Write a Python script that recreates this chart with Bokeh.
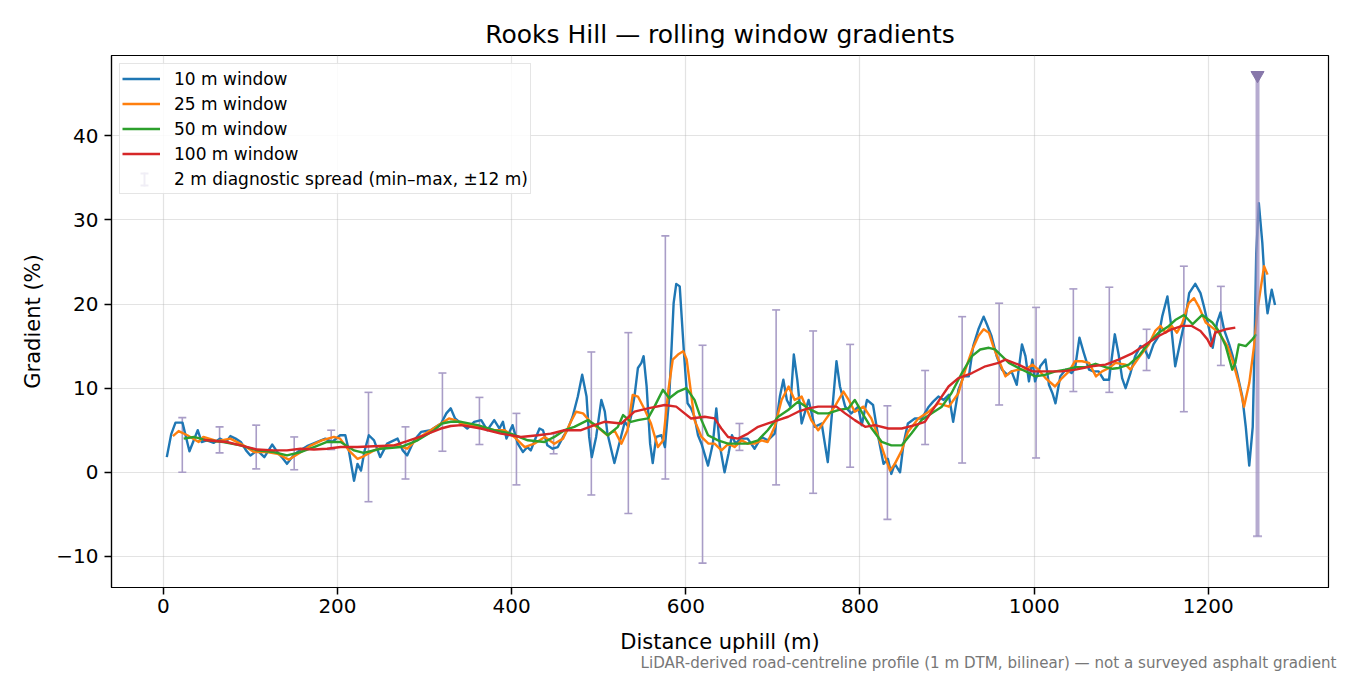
import numpy as np
from bokeh.plotting import figure
from bokeh.models import (Range1d, Legend, LegendItem, Title, FixedTicker,
                          CustomJSTickFormatter, BoxAnnotation, Node)
from bokeh.embed import file_html
from bokeh.resources import INLINE

# 10 m window
dist_10 = [4, 9, 14, 22, 30, 35, 39.5, 44, 50, 58, 65, 72, 77, 83, 89, 95, 100, 108, 116, 125,
           131, 136, 142, 148, 154, 165, 172, 181, 186, 194, 203, 209, 213, 219, 223, 227, 231, 236, 242, 249,
           257, 263, 269, 275, 280, 288, 296, 307, 313, 319, 325, 330, 335, 342, 349, 357, 365, 372, 380, 386,
           390, 394, 401, 407, 413, 418, 422, 428, 432, 436, 441, 447, 453, 459, 464, 470, 476, 481, 486, 489,
           492, 497, 503, 507, 510, 518, 526, 530, 534, 537, 541, 545, 549, 551.5, 555, 559, 562, 566, 572, 576,
           581, 586, 589, 593, 598, 602, 606, 610, 614, 618, 625.5, 631, 635, 639, 644.5, 649, 653, 657, 663, 671,
           679, 687, 694, 702, 708, 712, 716, 720, 724, 728, 733, 741, 748, 756, 763, 768, 773, 777, 783, 790,
           798, 802, 808, 815, 821, 827, 832, 836, 840, 846, 850, 855, 863, 871, 879, 884, 890, 896, 902, 907,
           913, 919, 925, 930, 936, 942, 946, 951, 957, 963, 969, 974, 980, 986, 990, 994, 998, 1001, 1007, 1013,
           1017, 1021, 1024.5, 1030, 1036, 1043, 1047, 1052, 1057, 1063, 1068, 1074, 1080, 1086, 1092.6, 1097, 1101, 1105, 1110.6, 1116,
           1122, 1126, 1131.6, 1137, 1143, 1147, 1153, 1157, 1162, 1168, 1174, 1178, 1185, 1191, 1195, 1201, 1205, 1210, 1214, 1218,
           1224, 1228, 1233, 1239, 1243, 1247, 1251, 1253, 1255, 1258, 1262, 1265.5, 1268, 1272.8, 1276.6]
grad_10 = [1.8, 4.5, 5.9, 5.9, 2.5, 3.8, 5.0, 3.6, 3.8, 3.5, 4.0, 3.6, 4.3, 4.0, 3.6, 2.6, 2.0, 2.6, 1.8, 3.3,
           2.4, 1.8, 1.0, 1.8, 2.4, 3.1, 3.4, 3.8, 4.0, 3.6, 4.4, 4.4, 2.6, -1.0, 1.0, 0.2, 2.5, 4.4, 3.8, 1.8,
           3.4, 3.7, 4.0, 2.6, 2.0, 3.8, 4.8, 5.0, 5.4, 5.8, 7.0, 7.6, 6.4, 5.8, 5.2, 6.0, 6.2, 5.0, 6.2, 5.2,
           6.0, 4.0, 5.6, 3.4, 2.4, 3.0, 2.6, 4.2, 5.2, 5.0, 3.2, 2.8, 3.0, 4.2, 5.0, 6.6, 9.0, 11.6, 9.0, 4.2,
           1.8, 4.2, 8.6, 7.2, 4.6, 1.1, 4.4, 6.0, 5.4, 6.6, 9.0, 12.4, 13.0, 13.8, 10.2, 3.4, 1.1, 4.2, 4.4, 3.0,
           9.0, 20.1, 22.4, 22.1, 14.0, 8.2, 7.6, 6.6, 4.4, 3.4, 0.8, 3.4, 7.6, 3.2, 0.0, 2.2, 4.4, 3.4, 4.0, 4.0,
           2.8, 4.2, 3.8, 4.6, 9.0, 11.0, 8.6, 7.8, 14.0, 11.0, 5.8, 8.6, 5.4, 5.8, 1.2, 7.2, 13.2, 10.2, 7.8, 7.0,
           7.8, 5.6, 8.6, 8.0, 4.2, 1.0, 1.6, -0.2, 1.0, 0.0, 3.4, 5.8, 6.4, 6.4, 7.8, 8.4, 9.0, 8.6, 9.2, 6.0,
           9.8, 11.4, 11.4, 15.0, 17.0, 18.5, 17.5, 16.2, 13.8, 12.2, 11.6, 12.0, 10.4, 15.2, 13.8, 10.8, 13.4, 10.8, 12.6, 13.4,
           10.4, 9.4, 8.2, 11.4, 12.2, 11.8, 12.4, 16.0, 14.2, 12.2, 12.0, 12.0, 11.0, 11.0, 16.4, 14.0, 11.2, 10.0, 11.8, 13.8,
           15.0, 14.8, 13.6, 15.2, 16.2, 18.5, 20.9, 17.7, 12.6, 15.6, 18.5, 21.3, 22.4, 21.3, 19.7, 17.0, 14.8, 17.8, 19.0, 17.0,
           15.2, 13.8, 11.8, 9.0, 5.4, 0.8, 5.4, 14.6, 26.0, 32.0, 27.3, 21.3, 18.9, 21.7, 19.9]

# 25 m window
dist_25 = [11, 17.6, 27.6, 40.6, 46, 62, 77, 92, 104, 119, 131, 144, 155, 168, 182, 196, 203, 213, 223, 230,
           242, 257, 269, 280, 292, 307, 319, 328, 335, 342, 361, 380, 392, 403, 415, 426, 438, 449, 459, 468,
           474, 482, 492, 503, 510, 518, 526, 533, 539, 545, 553, 560, 568, 574, 580, 585, 591, 597, 601, 605,
           610, 618, 626, 633, 641, 649, 656, 664, 671, 679, 687, 694, 702, 710, 718, 725, 733, 744, 752, 760,
           771, 781, 787, 794, 804, 813, 821, 829, 834.5, 840, 848, 855, 867, 879, 890, 902, 913, 921, 929, 936,
           942, 948, 953, 959, 967, 974, 982, 990, 998, 1005, 1013, 1024, 1032, 1040, 1047, 1055, 1063, 1071, 1078, 1086,
           1093.5, 1105, 1110.6, 1120, 1131.6, 1139, 1145, 1151, 1158, 1164, 1170, 1177.5, 1183.5, 1189, 1197, 1204.6, 1212, 1222, 1227.5, 1235,
           1241, 1247, 1252.5, 1257, 1264, 1268]
grad_25 = [4.3, 4.9, 4.4, 3.6, 4.2, 3.7, 4.0, 3.2, 2.4, 2.4, 2.2, 1.5, 2.2, 3.1, 3.8, 4.2, 4.0, 2.6, 1.6, 1.9,
           2.6, 3.2, 3.2, 2.8, 4.0, 5.0, 5.8, 6.4, 6.2, 5.8, 5.4, 5.0, 5.0, 4.2, 3.0, 3.4, 4.2, 3.4, 4.0, 6.0,
           7.2, 7.0, 5.8, 5.0, 4.4, 5.0, 3.4, 5.0, 9.2, 9.0, 7.4, 5.8, 3.0, 3.8, 9.8, 13.4, 14.0, 14.4, 13.4, 10.2,
           6.2, 4.2, 3.4, 3.4, 2.6, 3.4, 3.0, 3.8, 3.4, 3.4, 3.8, 3.6, 5.4, 8.6, 10.2, 8.6, 9.0, 6.2, 5.0, 6.2,
           7.8, 9.6, 8.6, 7.2, 7.8, 6.4, 4.2, 1.8, 0.2, 1.0, 2.6, 4.8, 6.4, 7.2, 8.2, 7.8, 9.4, 12.2, 14.6, 16.2,
           17.0, 16.6, 15.0, 13.4, 11.4, 12.0, 12.2, 12.2, 12.8, 12.2, 11.2, 10.2, 11.2, 12.0, 13.2, 13.2, 13.0, 11.4, 12.0, 12.4,
           13.0, 12.8, 12.2, 13.6, 15.2, 16.8, 17.4, 16.6, 17.4, 16.6, 17.7, 20.1, 20.7, 19.7, 17.8, 17.2, 16.6, 15.0, 13.4, 10.6,
           7.8, 10.6, 15.0, 19.7, 24.5, 23.5]

# 50 m window
dist_50 = [23.4, 35, 50, 69, 88.6, 107.7, 127, 142, 157.6, 173, 188, 203.6, 219, 230, 249.6, 272.6, 292, 311, 320, 330,
           342, 361, 380, 399, 418.5, 437.7, 449, 460.6, 472, 487.5, 499, 510.6, 522, 528, 537, 545, 556.5, 564, 573.7, 581,
           591, 600.6, 610, 618, 625.5, 637, 648.5, 660, 671, 683, 694, 706, 717.5, 729, 740.6, 752, 763.5, 775, 786.7, 794,
           804, 813.5, 825, 836, 848, 859, 870.7, 882, 894, 905, 917, 928.6, 938, 948, 955, 963, 971, 982, 994, 1001,
           1013, 1024.5, 1036, 1047.5, 1059, 1070.5, 1082, 1090, 1097, 1108.7, 1120, 1131.6, 1143, 1154.7, 1162, 1172, 1182, 1193, 1204.6, 1212,
           1220, 1227.5, 1231, 1235, 1243, 1250.6, 1255.3]
grad_50 = [4.0, 4.2, 3.8, 3.6, 3.2, 2.6, 2.4, 2.0, 2.4, 3.0, 3.6, 3.6, 2.6, 2.3, 2.8, 3.0, 3.8, 5.0, 5.8, 6.0,
           6.0, 5.6, 5.0, 4.6, 3.8, 3.6, 4.2, 5.0, 5.4, 6.2, 5.4, 4.4, 5.4, 6.8, 6.0, 6.2, 6.4, 7.8, 9.8, 8.8,
           9.6, 10.0, 8.6, 6.2, 4.4, 3.8, 3.4, 3.4, 3.4, 3.8, 5.0, 6.6, 7.4, 8.4, 7.6, 7.0, 7.0, 7.4, 7.6, 8.6,
           6.8, 5.2, 3.6, 3.2, 3.2, 4.6, 6.2, 7.0, 7.8, 9.4, 11.8, 13.8, 14.6, 14.8, 14.6, 13.8, 13.0, 12.4, 11.8, 11.4,
           11.6, 12.0, 12.2, 12.5, 12.5, 12.9, 12.5, 12.3, 12.4, 12.8, 13.8, 15.4, 16.6, 17.4, 18.1, 18.7, 17.6, 18.7, 17.8, 16.8,
           15.0, 12.2, 13.0, 15.2, 15.0, 15.8, 16.4]

# 100 m window
dist_100 = [46, 50, 72.8, 88.6, 107.7, 127, 142, 157.6, 173, 188, 203.6, 222.8, 242, 265, 280, 299.5, 318.7, 330, 342, 364.6,
            387.6, 410.6, 430, 445, 460.6, 479.7, 495, 506.5, 526, 541, 556.5, 575.6, 589, 598.6, 606, 621.7, 633, 640.8, 648.5, 660,
            671.4, 683, 694.4, 706, 717.5, 729, 740.6, 752, 763.5, 773, 783, 794, 806, 817, 832.5, 848, 863, 874.5, 886, 901.7,
            913, 928.6, 944, 959, 967, 982, 998, 1013, 1032, 1047.5, 1066, 1082, 1097, 1112, 1128, 1143, 1158, 1170, 1181, 1191,
            1199, 1203, 1208, 1220, 1231]
grad_100 = [3.9, 3.8, 3.6, 3.2, 2.7, 2.6, 2.6, 2.8, 2.7, 2.8, 3.0, 3.0, 3.1, 3.2, 3.7, 4.4, 5.2, 5.5, 5.6, 5.2,
            4.6, 4.2, 4.4, 4.6, 5.0, 5.0, 5.6, 6.0, 5.8, 7.2, 7.6, 8.0, 7.8, 7.0, 6.4, 6.6, 6.4, 5.2, 4.2, 4.0,
            4.6, 5.4, 5.8, 6.2, 6.6, 7.2, 7.6, 7.8, 7.8, 7.8, 7.0, 6.2, 5.4, 5.6, 5.2, 5.2, 5.6, 6.0, 7.8, 10.2,
            11.2, 11.8, 12.6, 13.0, 13.4, 12.8, 12.0, 12.0, 12.0, 12.2, 12.6, 12.8, 13.4, 14.1, 15.2, 16.2, 17.0, 17.4, 17.4, 16.8,
            15.8, 15.0, 16.6, 17.0, 17.2]

# 2 m diagnostic spread (min-max within +-12 m)
spread_x = [21.8, 64.6, 106.7, 150.3, 192.8, 235.6, 278.1, 320.5, 363, 405.5,
            448.2, 491.5, 534, 576.5, 619.2, 661.6, 703.7, 746.2, 788.7, 831.5,
            874.8, 917.3, 959.8, 1002.2, 1045, 1086.3, 1129.1, 1171.9, 1214.4, 1256.5]
spread_lo = [0.0, 2.3, 0.4, 0.3, 2.7, -3.5, -0.8, 2.5, 3.3, -1.5,
             2.2, -2.7, -4.9, -0.8, -10.8, 2.6, -1.5, -2.5, 0.6, -5.6,
             3.3, 1.1, 8.0, 1.7, 9.6, 9.5, 12.1, 7.2, 12.7, -7.6]
spread_hi = [6.5, 5.4, 5.6, 4.2, 5.0, 9.5, 5.4, 11.8, 8.9, 7.0,
             4.6, 14.3, 16.6, 28.1, 15.1, 5.8, 19.3, 16.8, 15.2, 7.9,
             12.1, 18.5, 20.1, 19.6, 21.8, 22.0, 17.0, 24.5, 22.1, 47.2]
clipped = [False] * 29 + [True]

FONT = "DejaVu Sans"
SPREAD = "#a99dc7"
LW = 2.4

p = figure(width=1350, height=675, output_backend="svg", toolbar_location=None,
           x_range=Range1d(-59.5, 1338), y_range=Range1d(-13.7, 49.55),
           min_border_left=111, min_border_right=22, min_border_top=55, min_border_bottom=88)
p.background_fill_color = "white"
p.border_fill_color = "white"
p.outline_line_color = "black"
p.outline_line_width = 1.2

p.title.text = "Rooks Hill \u2014 rolling window gradients"
p.title.align = "center"
p.title.text_font = FONT
p.title.text_font_size = "25px"
p.title.text_font_style = "normal"
p.title.text_color = "black"
p.title.standoff = 13

p.xaxis.ticker = FixedTicker(ticks=[0, 200, 400, 600, 800, 1000, 1200])
p.yaxis.ticker = FixedTicker(ticks=[-10, 0, 10, 20, 30, 40])
p.yaxis.formatter = CustomJSTickFormatter(code="return tick < 0 ? '\\u2212' + (-tick) : '' + tick;")
p.xaxis.axis_label = "Distance uphill (m)"
p.yaxis.axis_label = "Gradient (%)"
for ax in (p.xaxis, p.yaxis):
    ax.axis_label_text_font = FONT
    ax.axis_label_text_font_size = "21px"
    ax.axis_label_text_font_style = "normal"
    ax.axis_label_text_color = "black"
    ax.major_label_text_font = FONT
    ax.major_label_text_font_size = "20px"
    ax.major_label_text_color = "black"
    ax.minor_tick_line_color = None
    ax.major_tick_out = 7
    ax.major_tick_in = 0
    ax.major_tick_line_width = 1.5
    ax.major_tick_line_color = "black"
    ax.axis_line_color = "black"
    ax.axis_line_width = 1.2
p.xaxis.major_label_standoff = 4
p.xaxis.axis_label_standoff = 14
p.yaxis.major_label_standoff = 6
p.yaxis.axis_label_standoff = 8

p.grid.grid_line_color = "#b0b0b0"
p.grid.grid_line_alpha = 0.35
p.grid.grid_line_width = 1.2

# diagnostic spread bars (regular ones under the lines)
reg = [i for i in range(len(spread_x)) if not clipped[i]]
rx = [spread_x[i] for i in reg]
rlo = [spread_lo[i] for i in reg]
rhi = [spread_hi[i] for i in reg]
p.segment(x0=rx, y0=rlo, x1=rx, y1=rhi, line_color=SPREAD, line_width=1.6)
p.scatter(x=rx + rx, y=rlo + rhi, marker="dash", size=8, line_color=SPREAD, line_width=1.6)
# invisible placeholder renderer for the spread legend entry
key = p.scatter(x=rx[:1], y=rlo[:1], marker="dash", size=6, line_color=SPREAD, line_alpha=0)

r10 = p.line(dist_10, grad_10, line_color="#1f77b4", line_width=LW, line_join="round")
r25 = p.line(dist_25, grad_25, line_color="#ff7f0e", line_width=LW, line_join="round")
r50 = p.line(dist_50, grad_50, line_color="#2ca02c", line_width=LW, line_join="round")
r100 = p.line(dist_100, grad_100, line_color="#d62728", line_width=LW, line_join="round")

# clipped spread bar, drawn over the lines
cl = [i for i in range(len(spread_x)) if clipped[i]]
cx = [spread_x[i] for i in cl]
clo = [spread_lo[i] for i in cl]
chi = [spread_hi[i] for i in cl]
p.segment(x0=cx, y0=clo, x1=cx, y1=chi, line_color="#9d8fc0", line_alpha=0.75, line_width=4)
p.scatter(x=cx, y=clo, marker="dash", size=9, line_color="#9d8fc0", line_alpha=0.75, line_width=2)
p.scatter(x=cx, y=chi, marker="inverted_triangle", size=13, fill_color="#8777aa",
          line_color="#8777aa")

legend = Legend(items=[
    LegendItem(label="10 m window", renderers=[r10]),
    LegendItem(label="25 m window", renderers=[r25]),
    LegendItem(label="50 m window", renderers=[r50]),
    LegendItem(label="100 m window", renderers=[r100]),
    LegendItem(label="2 m diagnostic spread (min\u2013max, \u00b112 m)", renderers=[key]),
], location="top_left")
legend.label_text_font = FONT
legend.label_text_font_size = "17px"
legend.label_text_color = "black"
legend.glyph_width = 38
legend.glyph_height = 25
legend.label_height = 25
legend.spacing = 0
legend.padding = 2
legend.margin = 8
legend.label_standoff = 14
legend.border_line_color = "#cccccc"
legend.border_line_width = 1.5
legend.background_fill_alpha = 0.85
p.add_layout(legend)


def fx(off):
    return Node(target="frame", symbol="left", offset=off)


def fy(off):
    return Node(target="frame", symbol="top", offset=off)


# errorbar-style key drawn over the legend entry
for l, r, t, b in [(32, 34, 117, 131), (29, 37, 117, 119), (29, 37, 129, 131)]:
    p.add_layout(BoxAnnotation(left=fx(l), right=fx(r), top=fy(t), bottom=fy(b),
                               fill_color="#9d8fc0", fill_alpha=1, line_color=None, level="overlay"))

note = Title(text="LiDAR-derived road-centreline profile (1 m DTM, bilinear) \u2014 not a surveyed asphalt gradient",
             align="right", text_font=FONT, text_font_size="15.1px", text_font_style="normal",
             text_color="#777777", offset=-8, standoff=-10)
p.add_layout(note, "below")

open("out.html", "w").write(file_html(p, INLINE))
